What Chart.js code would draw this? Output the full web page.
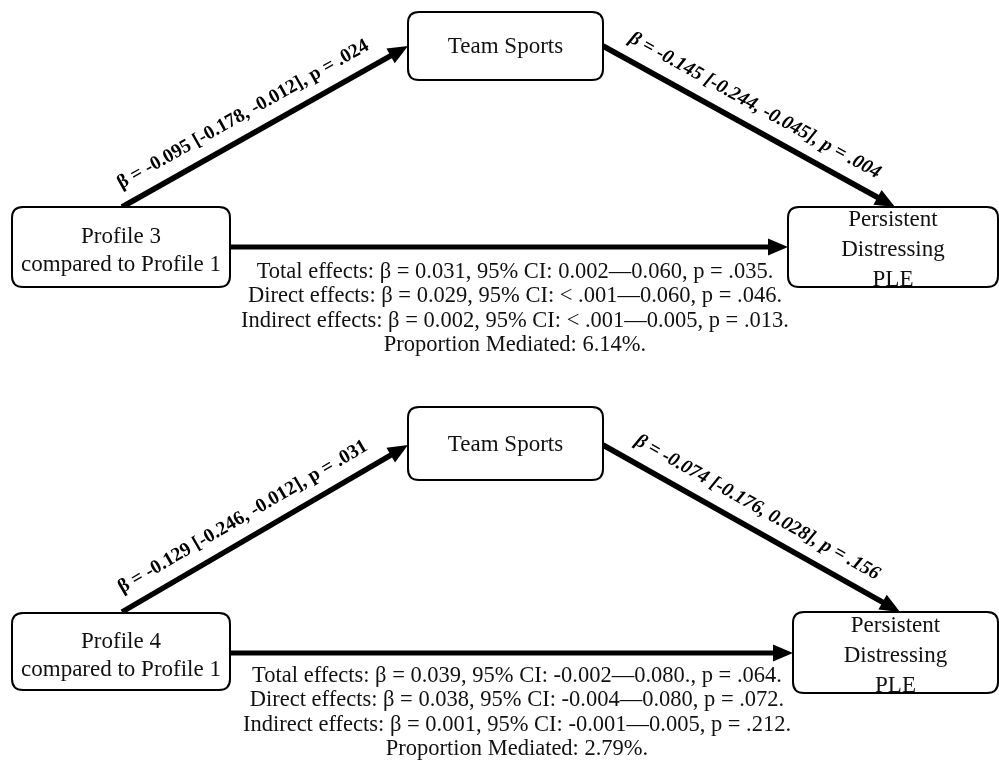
<!DOCTYPE html>
<html><head><meta charset="utf-8">
<script src="https://cdn.jsdelivr.net/npm/chart.js@4.4.1/dist/chart.umd.min.js"></script>
<style>html,body{margin:0;padding:0;background:#fff}#wrap{width:999px;height:776px;position:relative}</style>
</head><body><div id="wrap"><canvas id="c"></canvas></div>
<script>
// ---------- data ----------
const predictors = ["Profile 3", "Profile 4"];
const referenceGroup = "Profile 1";
const mediatorName = "Team Sports";
const outcomeName = ["Persistent", "Distressing", "PLE"];
const aBeta = [-0.095, -0.129];
const aCI = [["-0.178", "-0.012"], ["-0.246", "-0.012"]];
const aP = [".024", ".031"];
const bBeta = [-0.145, -0.074];
const bCI = [["-0.244", "-0.045"], ["-0.176", "0.028"]];
const bP = [".004", ".156"];
const totalBeta = ["0.031", "0.039"];
const totalCI = [["0.002", "0.060"], ["-0.002", "0.080."]];
const totalP = [".035", ".064"];
const directBeta = ["0.029", "0.038"];
const directCI = [["< .001", "0.060"], ["-0.004", "0.080"]];
const directP = [".046", ".072"];
const indirectBeta = ["0.002", "0.001"];
const indirectCI = [["< .001", "0.005"], ["-0.001", "0.005"]];
const indirectP = [".013", ".212"];
const propMediated = ["6.14", "2.79"];

// ---------- layout (diagram coordinates, separate from data) ----------
const layout = [
  { med: [408, 12, 603, 80], xb: [12, 207, 230, 287], yb: [788, 207, 998, 287],
    a: [[122, 207], [408, 46]], b: [[603, 46], [895, 207]], c: [[230, 247], [788, 247]],
    statsX: 515, statsY: 272 },
  { med: [408, 407, 603, 480], xb: [12, 613, 230, 690], yb: [793, 612, 998, 693],
    a: [[122, 612], [408, 445]], b: [[603, 445], [900, 612]], c: [[230, 653], [793, 653]],
    statsX: 517, statsY: 676 }
];
const HEAD = 20, HEADW = 8.5;
const SERIF = "'Liberation Serif', 'Times New Roman', serif";

function shaft(p0, p1) {
  const dx = p1[0] - p0[0], dy = p1[1] - p0[1], L = Math.hypot(dx, dy);
  const k = (L - HEAD * 0.8) / L;
  return [{ x: p0[0], y: p0[1] }, { x: p0[0] + dx * k, y: p0[1] + dy * k }];
}
const datasets = [];
layout.forEach(l => {
  ['a', 'b', 'c'].forEach(key => {
    datasets.push({ type: 'line', data: shaft(l[key][0], l[key][1]), borderColor: '#000',
      borderWidth: key === 'c' ? 5 : 5.5, pointRadius: 0, showLine: true, clip: false, borderCapStyle: 'butt' });
  });
});

function fmtPath(beta, ci, p) {
  return "β = " + beta.toFixed(3) + " [" + ci[0] + ", " + ci[1] + "], p = " + p;
}

function roundRect(ctx, x0, y0, x1, y1, r) {
  ctx.beginPath();
  ctx.moveTo(x0 + r, y0);
  ctx.lineTo(x1 - r, y0); ctx.quadraticCurveTo(x1, y0, x1, y0 + r);
  ctx.lineTo(x1, y1 - r); ctx.quadraticCurveTo(x1, y1, x1 - r, y1);
  ctx.lineTo(x0 + r, y1); ctx.quadraticCurveTo(x0, y1, x0, y1 - r);
  ctx.lineTo(x0, y0 + r); ctx.quadraticCurveTo(x0, y0, x0 + r, y0);
  ctx.closePath();
}

const diagramPlugin = {
  id: 'diagram',
  afterDatasetsDraw(chart) {
    const ctx = chart.ctx, xs = chart.scales.x, ys = chart.scales.y;
    const px = v => xs.getPixelForValue(v), py = v => ys.getPixelForValue(v);
    ctx.save();
    layout.forEach((l, i) => {
      // boxes
      const boxes = [
        [l.med, [mediatorName], 0, 1],
        [l.xb, [predictors[i], "compared to " + referenceGroup], 28, 4],
        [l.yb, outcomeName, 30, 3]
      ];
      boxes.forEach(([b, lines, lh, off]) => {
        const x0 = px(b[0]), y0 = py(b[1]), x1 = px(b[2]), y1 = py(b[3]);
        roundRect(ctx, x0, y0, x1, y1, 11);
        ctx.fillStyle = '#fff'; ctx.fill();
        ctx.lineWidth = 2; ctx.strokeStyle = '#000'; ctx.stroke();
        ctx.fillStyle = '#111';
        ctx.font = "23px " + SERIF;
        ctx.textAlign = 'center'; ctx.textBaseline = 'middle';
        const cx = (x0 + x1) / 2, cy = (y0 + y1) / 2 + off;
        lines.forEach((t, j) => ctx.fillText(t, cx, cy + (j - (lines.length - 1) / 2) * lh));
      });
      // arrowheads
      ['a', 'b', 'c'].forEach(key => {
        const p0 = l[key][0], p1 = l[key][1];
        const X0 = px(p0[0]), Y0 = py(p0[1]), X1 = px(p1[0]), Y1 = py(p1[1]);
        const L = Math.hypot(X1 - X0, Y1 - Y0), ux = (X1 - X0) / L, uy = (Y1 - Y0) / L;
        const bx = X1 - ux * HEAD, by = Y1 - uy * HEAD;
        ctx.beginPath();
        ctx.moveTo(X1, Y1);
        ctx.lineTo(bx - uy * HEADW, by + ux * HEADW);
        ctx.lineTo(bx + uy * HEADW, by - ux * HEADW);
        ctx.closePath();
        ctx.fillStyle = '#000'; ctx.fill();
      });
      // path labels
      const labels = [
        ['a', fmtPath(aBeta[i], aCI[i], aP[i]), "bold 19.5px " + SERIF],
        ['b', fmtPath(bBeta[i], bCI[i], bP[i]), "italic bold 19.5px " + SERIF]
      ];
      labels.forEach(([key, text, font]) => {
        const p0 = l[key][0], p1 = l[key][1];
        const X0 = px(p0[0]), Y0 = py(p0[1]), X1 = px(p1[0]), Y1 = py(p1[1]);
        const L = Math.hypot(X1 - X0, Y1 - Y0), ux = (X1 - X0) / L, uy = (Y1 - Y0) / L;
        const t = key === 'a' ? 0.46 : 0.485, d = 21;
        const cx = X0 + (X1 - X0) * t + uy * d, cy = Y0 + (Y1 - Y0) * t - ux * d;
        ctx.save();
        ctx.translate(cx, cy);
        ctx.rotate(Math.atan2(uy, ux));
        ctx.font = font; ctx.fillStyle = '#000';
        ctx.textAlign = 'center'; ctx.textBaseline = 'middle';
        ctx.fillText(text, 0, 0);
        ctx.restore();
      });
      // stats text
      const stats = [
        "Total effects: β = " + totalBeta[i] + ", 95% CI: " + totalCI[i][0] + "—" + totalCI[i][1] + ", p = " + totalP[i] + ".",
        "Direct effects: β = " + directBeta[i] + ", 95% CI: " + directCI[i][0] + "—" + directCI[i][1] + ", p = " + directP[i] + ".",
        "Indirect effects: β = " + indirectBeta[i] + ", 95% CI: " + indirectCI[i][0] + "—" + indirectCI[i][1] + ", p = " + indirectP[i] + ".",
        "Proportion Mediated: " + propMediated[i] + "%."
      ];
      ctx.font = "22.5px " + SERIF; ctx.fillStyle = '#111';
      ctx.textAlign = 'center'; ctx.textBaseline = 'middle';
      stats.forEach((s, j) => ctx.fillText(s, px(l.statsX), py(l.statsY + j * 24.3)));
    });
    ctx.restore();
  }
};

new Chart(document.getElementById('c'), {
  type: 'scatter',
  data: { datasets },
  options: {
    responsive: true, maintainAspectRatio: false, animation: false,
    layout: { padding: 0 },
    plugins: { legend: { display: false }, tooltip: { enabled: false }, title: { display: false } },
    scales: {
      x: { type: 'linear', min: 0, max: 999, display: false },
      y: { type: 'linear', min: 0, max: 776, reverse: true, display: false }
    }
  },
  plugins: [diagramPlugin]
});
</script></body></html>
